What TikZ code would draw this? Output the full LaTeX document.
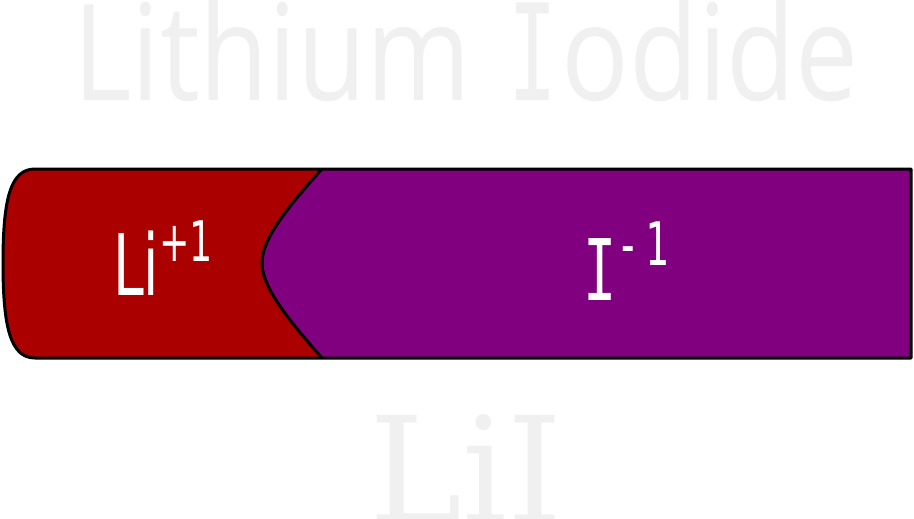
\documentclass[tikz,border=0pt]{standalone}
\usepackage{fontspec}
\setmainfont{DejaVu Sans}
\newfontfamily\titlefont{Open Sans}
\newfontfamily\ionmono{DejaVu Sans Mono}
\newfontfamily\formulafont{DejaVu Serif}

\begin{document}
\begin{tikzpicture}[x=1pt, y=-1pt,
  ionlabel/.style={white, inner sep=0pt, anchor=base west, xscale=0.65},
  ghost/.style={ghostgray, inner sep=0pt}]

\definecolor{lithiumred}{RGB}{170, 0, 0}
\definecolor{iodidepurple}{RGB}{128, 0, 128}
\definecolor{ghostgray}{RGB}{240, 240, 240}

\useasboundingbox (0, 0) rectangle (914, 519);

\node[ghost, anchor=base west, xscale=0.84, font=\titlefont\fontsize{134}{134}\selectfont] (title) at (73, 100)
  {Lithium\hspace{44pt}{\ionmono\scalebox{0.72}[1]{I}}\hspace{5pt}odide};

\fill[lithiumred] (322, 169) -- (35, 169) .. controls (10, 169) and (3, 200) .. (3, 263)
  .. controls (3, 326) and (10, 358) .. (35, 358) -- (322, 358)
  .. controls (285, 316) and (262, 286) .. (262, 263)
  .. controls (262, 240) and (285, 210) .. (322, 169) -- cycle;
\fill[iodidepurple] (322, 169) -- (911, 169) -- (911, 358) -- (322, 358)
  .. controls (285, 316) and (262, 286) .. (262, 263)
  .. controls (262, 240) and (285, 210) .. (322, 169) -- cycle;
\draw[line width=3pt, line join=round] (911, 169) -- (35, 169) .. controls (10, 169) and (3, 200) .. (3, 263)
  .. controls (3, 326) and (10, 358) .. (35, 358) -- (911, 358) -- cycle;
\draw[line width=3pt] (322, 169) .. controls (285, 210) and (262, 240) .. (262, 263)
  .. controls (262, 286) and (285, 316) .. (322, 358);

\node[ionlabel, font=\fontsize{85}{85}\selectfont] (lithium) at (113, 295)
  {Li\raisebox{34pt}{\fontsize{56}{56}\selectfont +1}};
\node[ionlabel, font=\ionmono\fontsize{85}{85}\selectfont] (iodide) at (583, 300)
  {I\raisebox{35pt}{\fontsize{60}{60}\selectfont -\kern8pt 1}};

\node[ghost, anchor=base, xscale=0.95, font=\formulafont\fontsize{147}{147}\selectfont] (formula) at (466, 522) {LiI};

\end{tikzpicture}
\end{document}
